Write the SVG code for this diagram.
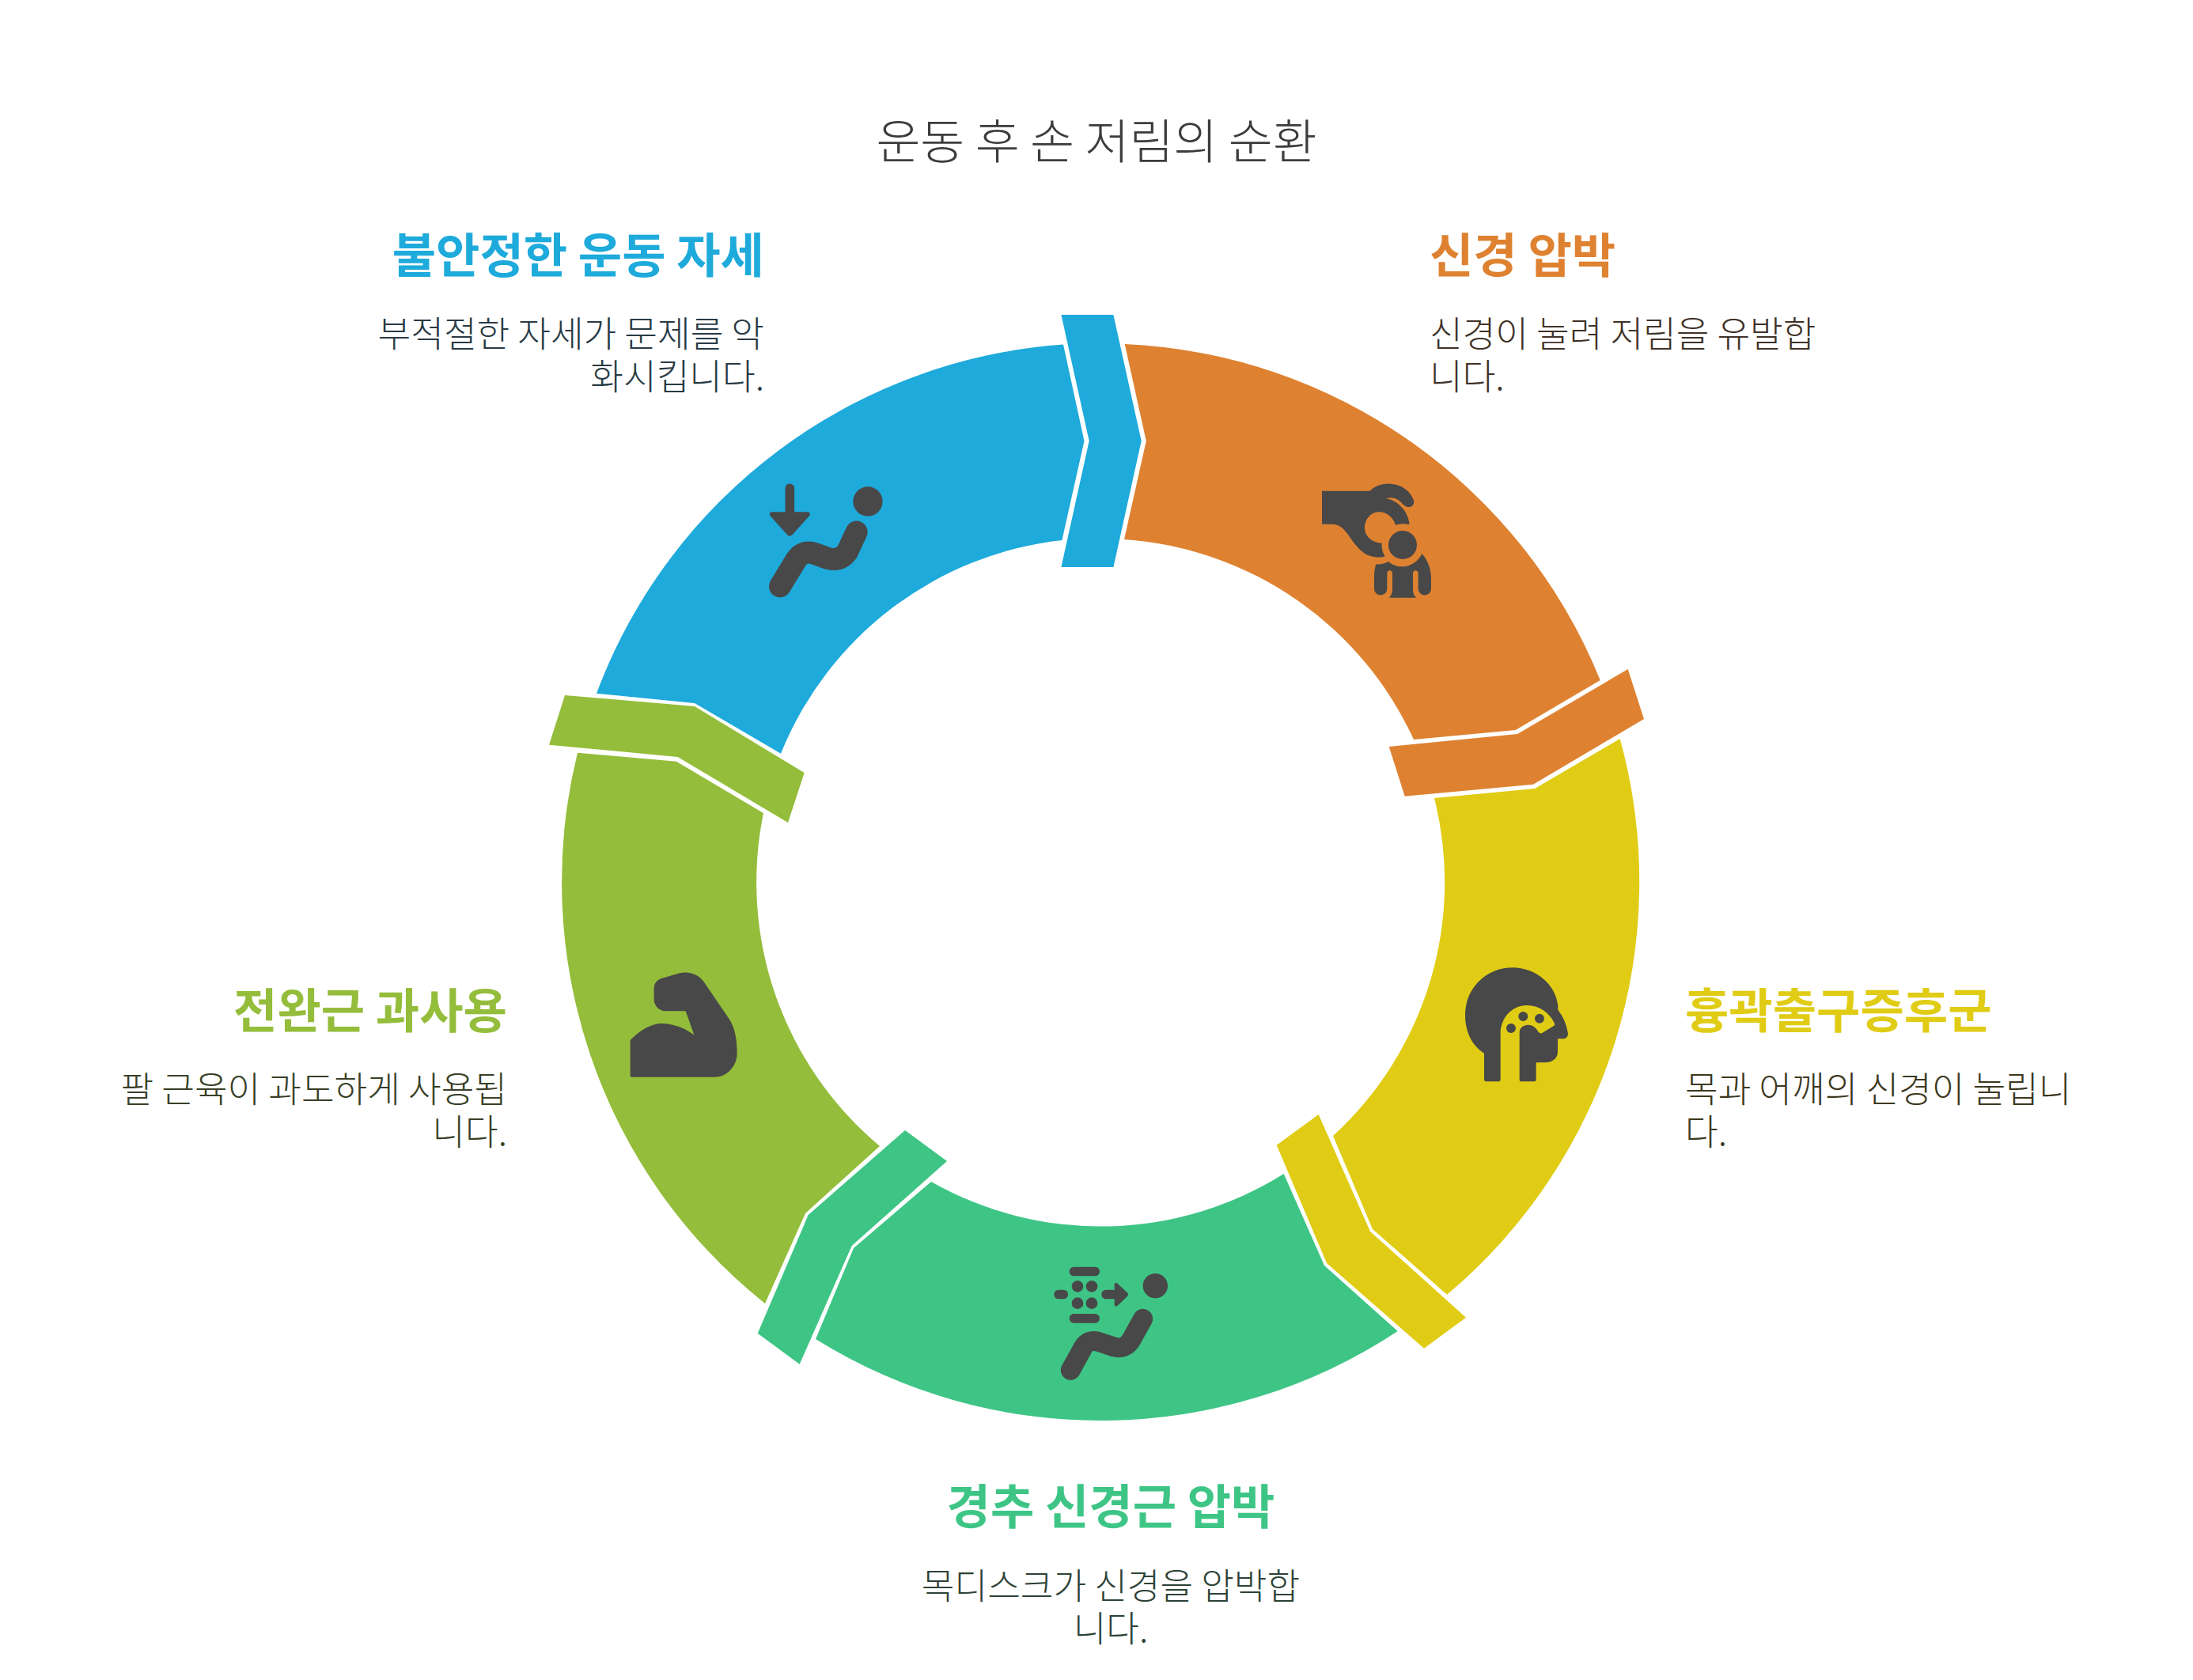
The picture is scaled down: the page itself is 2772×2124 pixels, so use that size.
<svg xmlns="http://www.w3.org/2000/svg" width="2772" height="2124" viewBox="0 0 2772 2124">
<style>
text{font-family:"Noto Sans CJK KR","Noto Sans",sans-serif}
.t{font-size:60.8px;fill:#3c3c3c;text-anchor:middle;font-weight:300}
.h{font-size:60.2px;font-weight:700}
.b{font-size:45.3px;font-weight:300}
.e{text-anchor:end}
.m{text-anchor:middle}
.i{fill:#484848}
.o{fill:#de8231}.y{fill:#e0cc15}.g{fill:#3ec586}.l{fill:#94bd3b}.c{fill:#1eaadb}
.s{fill:none;stroke:#484848;stroke-linecap:round;stroke-linejoin:round}
</style>
<rect width="2772" height="2124" fill="#fff"/>
<text class="t" x="1386" y="201">운동 후 손 저림의 순환</text>
<g id="connectors">
<polygon class="c" points="1341.4,398 1407.4,398 1442.7,557.6 1407.4,717 1341.4,717 1376.7,557.6"/>
<polygon class="o" points="1755.7,944 1918,928 2057.7,846 2078,909 1938,991.7 1775.7,1006.7"/>
<polygon class="y" points="1666.7,1409 1732,1557 1853,1665.7 1800,1704.7 1677,1597 1613.7,1447.7"/>
<polygon class="g" points="1144,1429 1197,1468 1076.7,1575 1010.7,1724.7 957.7,1685.7 1021.7,1536"/>
<polygon class="l" points="714,879 878,893 1016.7,977 996,1040 856.7,957 694,941.7"/>
</g>
<g id="node-orange">
<path class="o" d="M1421.7,435A681,681 0 0 1 2022.7,860L1915.7,923L1787,935A435,435 0 0 0 1421,682L1448.8,557.6Z"/>
<g transform="translate(1640,590) scale(.3333)" class="i">
<path d="M93,92L275,92C295,72 325,63 355,65C395,68 425,90 440,125C447,145 430,157 415,152C400,148 395,132 380,125C365,117 350,116 335,120C385,130 420,170 425,220C410,215 390,215 372,222C365,195 340,172 310,172C280,172 255,198 255,232C255,265 285,290 320,290C318,305 322,325 332,340C320,345 300,345 280,340C240,330 215,290 190,255C175,235 160,218 130,218L93,218Z"/>
<circle cx="399" cy="297" r="54"/>
<path d="M298,370C315,372 330,368 345,360C380,392 445,385 472,330C495,355 507,390 507,425L507,462C507,478 495,487 482,487C468,487 458,475 458,462L458,405C458,390 438,390 438,405L438,465C438,478 442,490 450,497L348,497C355,490 360,478 360,465L360,405C360,390 340,390 340,405L340,462C340,478 328,487 315,487C300,487 291,475 291,462L291,420C291,400 293,385 298,370Z"/>
</g>
<text class="h" x="1807" y="345" style="fill:#de8231">신경 압박</text>
<g style="fill:#3f3228">
<text class="b" x="1807" y="439">신경이 눌려 저림을 유발합</text>
<text class="b" x="1807" y="493">니다.</text>
</g>
</g>
<g id="node-yellow">
<path class="y" d="M1813,1009L1940,997L2047.7,934A681,681 0 0 1 1829,1636.7L1735,1554L1685,1436A435,435 0 0 0 1813,1009Z"/>
<g transform="translate(1780,1180) scale(.3333)" class="i">
<path d="M288,455C240,425 216,370 216,310C216,210 295,130 395,130C485,130 560,195 568,275L568,290C590,320 600,345 606,380C606,392 598,400 588,400L567,400L567,450C567,475 545,490 520,490L485,490L485,555Q485,562 478,562L430,562Q422,562 422,555L422,375C422,358 438,347 455,347C475,347 485,360 495,375Q500,382 508,378L553,350Q558,346 553,338C535,300 495,273 450,273C395,273 350,320 350,380L350,555Q350,562 343,562L295,562Q288,562 288,555Z"/>
<circle cx="390" cy="360" r="18"/><circle cx="436" cy="315" r="18"/><circle cx="498" cy="323" r="18"/>
</g>
<text class="h" x="2130" y="1300" style="fill:#e0cc15">흉곽출구증후군</text>
<g style="fill:#3c381e">
<text class="b" x="2130" y="1394">목과 어깨의 신경이 눌립니</text>
<text class="b" x="2130" y="1448">다.</text>
</g>
</g>
<g id="node-green">
<path class="g" d="M1766.7,1683A681,681 0 0 1 1031,1693L1079,1578L1177,1494A435,435 0 0 0 1622.7,1484L1674,1600Z"/>
<g transform="translate(1300,1580) scale(.3333)">
<circle class="i" cx="481" cy="137" r="47"/>
<path class="s" stroke-width="75" d="M160,457L208,370Q225,340 262,348L322,368Q365,380 388,345L434,262"/>
<rect class="i" x="155" y="65" width="115" height="35" rx="17"/><rect class="i" x="155" y="243" width="115" height="35" rx="17"/><rect class="i" x="97" y="152" width="53" height="35" rx="17"/>
<circle class="i" cx="186" cy="139" r="22"/><circle class="i" cx="240" cy="139" r="22"/><circle class="i" cx="186" cy="203" r="22"/><circle class="i" cx="240" cy="203" r="22"/>
<rect class="i" x="277" y="152" width="60" height="35" rx="17"/>
<path class="i" d="M326,135Q326,120 338,128L374,162Q382,170 374,178L338,212Q326,220 326,205Z"/>
</g>
<text class="h m" x="1404" y="1927" style="fill:#3ec586">경추 신경근 압박</text>
<g style="fill:#2d4236">
<text class="b m" x="1404" y="2022">목디스크가 신경을 압박합</text>
<text class="b m" x="1404" y="2076">니다.</text>
</g>
</g>
<g id="node-olive">
<path class="l" d="M967,1648A681,681 0 0 1 730,951.7L855,962.7L965,1028A435,435 0 0 0 1112,1449L1018,1534Z"/>
<g transform="translate(780,1200) scale(.3333)" class="i">
<path d="M50,345C90,305 130,282 170,282C210,282 255,298 292,325L260,235L185,235C160,235 140,215 140,190L140,150C140,130 150,118 168,111L230,93C265,82 305,90 330,125L425,265C445,295 455,335 455,395C455,445 415,485 370,485L55,485Q50,485 50,480Z"/>
</g>
<text class="h e" x="641" y="1300" style="fill:#94bd3b">전완근 과사용</text>
<g style="fill:#383f27">
<text class="b e" x="641" y="1394">팔 근육이 과도하게 사용됩</text>
<text class="b e" x="641" y="1448">니다.</text>
</g>
</g>
<g id="node-blue">
<path class="c" d="M754,876.7A681,681 0 0 1 1344,435.6L1370.5,557.6L1342.4,683A435,435 0 0 0 987,952.7L878,889Z"/>
<g transform="translate(950,590) scale(.3333)">
<circle class="i" cx="441" cy="132" r="56"/>
<path class="s" stroke-width="84" d="M108,454L170,352Q195,315 240,330L290,348Q335,360 362,325L398,248"/>
<path class="s" stroke-width="35" d="M145,82L145,180"/>
<path class="i" d="M80,172L210,172Q228,172 218,188L155,258Q145,268 135,258L72,188Q62,172 80,172Z"/>
</g>
<text class="h e" x="966" y="345" style="fill:#1eaadb">불안정한 운동 자세</text>
<g style="fill:#283a44">
<text class="b e" x="966" y="439">부적절한 자세가 문제를 악</text>
<text class="b e" x="966" y="493">화시킵니다.</text>
</g>
</g>
</svg>
